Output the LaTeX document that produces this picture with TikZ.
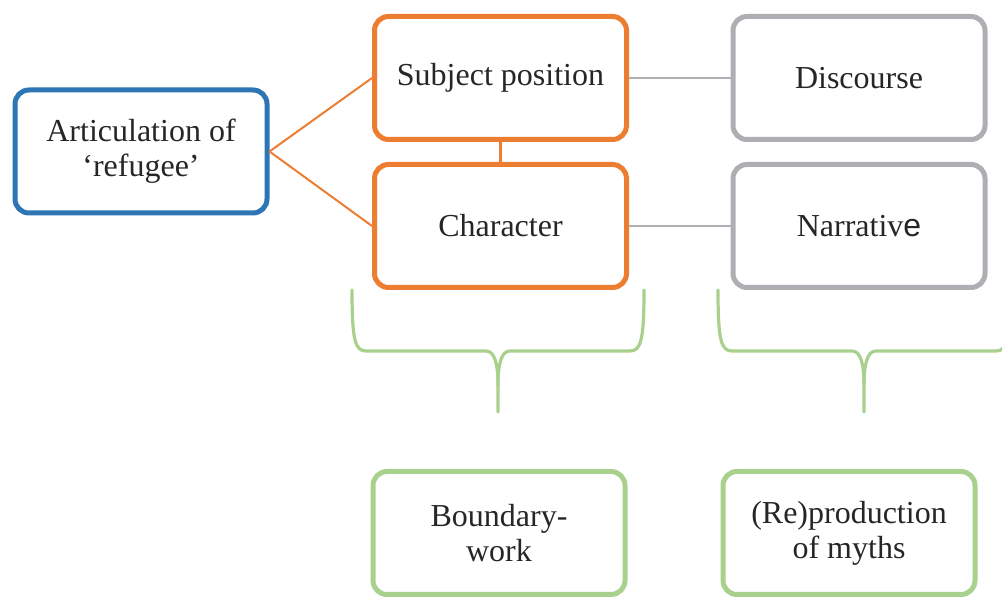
\documentclass[tikz,border=0pt]{standalone}
\usepackage{fontspec}
\setmainfont{Liberation Serif}
\setsansfont{Liberation Sans}
\definecolor{cblue}{HTML}{2E75B6}
\definecolor{corange}{HTML}{ED7D31}
\definecolor{cgray}{HTML}{AEAEB3}
\definecolor{cgreen}{HTML}{A9D18E}
\begin{document}
\begin{tikzpicture}[x=0.5pt,y=-0.5pt,
  box/.style={draw, line width=2.5pt, rounded corners=7pt, fill=white,
    minimum width=126pt, minimum height=61.5pt, align=center,
    inner sep=2pt, font=\fontsize{16}{17.5}\selectfont, text=black!85},
  link/.style={line width=1pt},
  brace/.style={draw=cgreen, line width=1.6pt, line cap=round}]
\useasboundingbox (0,0) rectangle (1002,597);

% boxes
\node[box, draw=cblue]   (art)  at (141,151.5) {Articulation of\\‘refugee’};
\node[box, draw=corange] (subj) at (500.5,78)  {Subject position};
\node[box, draw=corange] (char) at (500.5,226) {Character};
\node[box, draw=cgray]   (disc) at (859,78)    {Discourse};
\node[box, draw=cgray]   (narr) at (859,226)   {Narrativ{\sffamily e}};
\node[box, draw=cgreen]  (bw)   at (499,533)   {Boundary-\\work};
\node[box, draw=cgreen]  (myth) at (849,533)   {(Re)production\\of myths};

% connectors
\draw[corange, link] (art.east) -- (subj.west);
\draw[corange, link] (art.east) -- (char.west);
\draw[corange, line width=1.5pt] (subj.south) -- (char.north);
\draw[cgray, link] (subj.east) -- (disc.west);
\draw[cgray, link] (char.east) -- (narr.west);

% braces under the two columns
\draw[brace] (352,290) .. controls (352,340) and (355,351) .. (366,351)
  -- (486,351) .. controls (495,351) and (498,365) .. (498,385) -- (498,412);
\draw[brace] (644,290) .. controls (644,340) and (641,351) .. (630,351)
  -- (510,351) .. controls (501,351) and (498,365) .. (498,385);
\draw[brace] (718,290) .. controls (718,340) and (721,351) .. (732,351)
  -- (852,351) .. controls (861,351) and (864,365) .. (864,385) -- (864,412);
\draw[brace] (1010,290) .. controls (1010,340) and (1007,351) .. (996,351)
  -- (876,351) .. controls (867,351) and (864,365) .. (864,385);
\end{tikzpicture}
\end{document}
